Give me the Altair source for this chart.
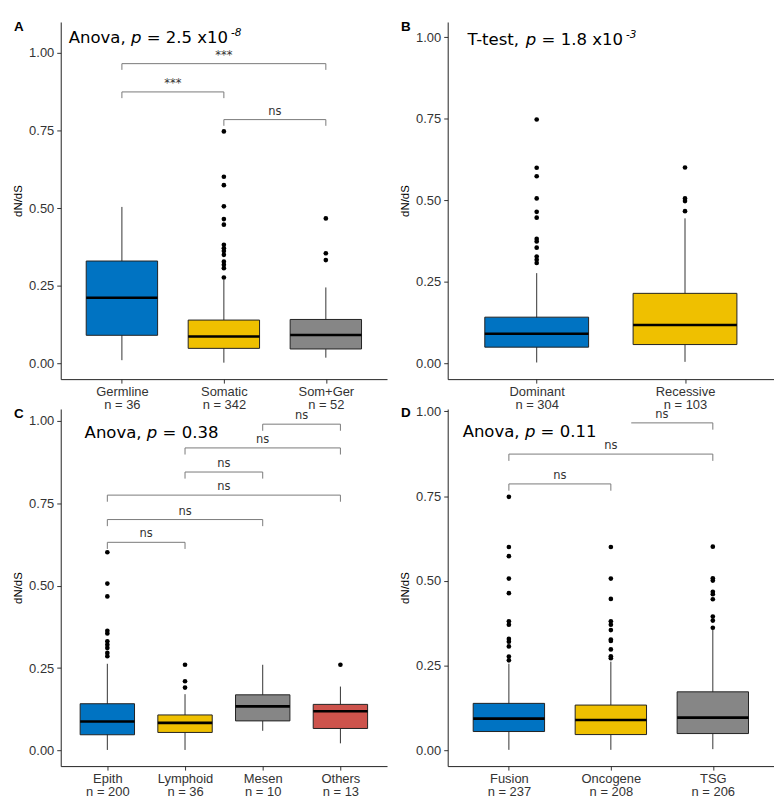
import altair as alt
import pandas as pd

BLUE, YELLOW, GREY, RED = "#0073C2", "#EFC000", "#868686", "#CD534C"

# ---------------- Panel A ----------------
A_cats = ["Germline", "Somatic", "Som+Ger"]
A_n = [36, 342, 52]
A_colors = [BLUE, YELLOW, GREY]
A_low = [0.011, 0.003, 0.019]
A_q1 = [0.091, 0.049, 0.047]
A_med = [0.212, 0.087, 0.092]
A_q3 = [0.330, 0.140, 0.142]
A_high = [0.504, 0.270, 0.245]
A_out = [[],
         [0.747, 0.601, 0.574, 0.506, 0.465, 0.447, 0.382, 0.371, 0.362, 0.350, 0.328, 0.318, 0.307, 0.277],
         [0.467, 0.355, 0.333]]
A_br_from = [1, 1, 2]
A_br_to = [3, 2, 3]
A_br_y = [0.965, 0.874, 0.785]
A_br_lab = ["***", "***", "ns"]
A_br_hide = [0, 0, 0]
A_ydom = [-0.050, 1.099]
A_stat = ["Anova,", "p", "= 2.5 x10", "-8"]

# ---------------- Panel B ----------------
B_cats = ["Dominant", "Recessive"]
B_n = [304, 103]
B_colors = [BLUE, YELLOW]
B_low = [0.003, 0.005]
B_q1 = [0.050, 0.058]
B_med = [0.091, 0.118]
B_q3 = [0.142, 0.215]
B_high = [0.277, 0.445]
B_out = [[0.748, 0.600, 0.574, 0.506, 0.465, 0.447, 0.382, 0.374, 0.355, 0.328, 0.318, 0.308],
         [0.601, 0.506, 0.498, 0.467]]
B_br_from, B_br_to, B_br_y, B_br_lab, B_br_hide = [], [], [], [], []
B_ydom = [-0.048, 1.047]
B_stat = ["T-test,", "p", "= 1.8 x10", "-3"]

# ---------------- Panel C ----------------
C_cats = ["Epith", "Lymphoid", "Mesen", "Others"]
C_n = [200, 36, 10, 13]
C_colors = [BLUE, YELLOW, GREY, RED]
C_low = [0.002, 0.002, 0.060, 0.022]
C_q1 = [0.048, 0.055, 0.090, 0.067]
C_med = [0.088, 0.084, 0.134, 0.119]
C_q3 = [0.142, 0.108, 0.169, 0.140]
C_high = [0.263, 0.171, 0.260, 0.194]
C_out = [[0.601, 0.506, 0.467, 0.363, 0.355, 0.331, 0.321, 0.311, 0.296, 0.286],
         [0.260, 0.210, 0.191],
         [],
         [0.260]]
C_br_from = [1, 1, 1, 2, 2, 3]
C_br_to = [2, 3, 4, 3, 4, 4]
C_br_y = [0.631, 0.700, 0.774, 0.844, 0.917, 0.989]
C_br_lab = ["ns", "ns", "ns", "ns", "ns", "ns"]
C_br_hide = [0, 0, 0, 0, 0, 0]
C_ydom = [-0.047, 1.035]
C_stat = ["Anova,", "p", "= 0.38", ""]

# ---------------- Panel D ----------------
D_cats = ["Fusion", "Oncogene", "TSG"]
D_n = [237, 208, 206]
D_colors = [BLUE, YELLOW, GREY]
D_low = [0.002, 0.002, 0.004]
D_q1 = [0.056, 0.047, 0.050]
D_med = [0.094, 0.090, 0.097]
D_q3 = [0.139, 0.134, 0.173]
D_high = [0.256, 0.262, 0.357]
D_out = [[0.748, 0.600, 0.573, 0.507, 0.464, 0.381, 0.371, 0.329, 0.321, 0.307, 0.277, 0.266],
         [0.600, 0.507, 0.447, 0.381, 0.371, 0.355, 0.327, 0.323, 0.298, 0.278, 0.272],
         [0.601, 0.508, 0.501, 0.468, 0.461, 0.446, 0.395, 0.383, 0.362]]
D_br_from = [1, 1, 2]
D_br_to = [2, 3, 3]
D_br_y = [0.786, 0.874, 0.966]
D_br_lab = ["ns", "ns", "ns"]
D_br_hide = [0, 0, 0.2]
D_ydom = [-0.046, 1.007]
D_stat = ["Anova,", "p", "= 0.11", ""]

W, H = 328, 359
TIP = 0.02
STAT_SIZE = 16.6

# DejaVu Sans advance widths (units per em 2048) for placing text segments
ADV = {'A': 1401, 'n': 1298, 'o': 1253, 'v': 1212, 'a': 1255, ',': 651, ' ': 651,
       'p': 1300, '=': 1716, '.': 651, 'x': 1212, 'T': 1251, '-': 739, 't': 803,
       'e': 1260, 's': 1067}


def tw(s, size):
    return sum(ADV.get(c, 1303) for c in s) / 2048.0 * size


def panel(letter, cats, ns, colors, low, q1, med, q3, high, outs,
          brf, brt, bry, brl, brh, ydom, stat, stat_xy, letter_y, anchor=False):
    n = len(cats)
    pos = list(range(1, n + 1))
    xs = alt.Scale(domain=[0.4, n + 0.6], nice=False, zero=False)
    ys = alt.Scale(domain=ydom, nice=False, zero=False)
    labexpr = "[" + ",".join("['%s','n = %d']" % (c, k) for c, k in zip(cats, ns)) + "][datum.value - 1]"
    xaxis = alt.Axis(values=pos, labelExpr=labexpr, title=None, grid=False,
                     domainColor="#222", domainWidth=1, tickColor="#333", tickSize=4, tickWidth=1,
                     labelFont="Liberation Sans", labelFontSize=13, labelColor="#333",
                     labelPadding=2, labelLineHeight=13.5, labelOverlap=False, labelFlush=False)
    yaxis = alt.Axis(values=[0, 0.25, 0.5, 0.75, 1.0], format=".2f", title="dN/dS", grid=False,
                     domainColor="#222", domainWidth=1, tickColor="#333", tickSize=4, tickWidth=1,
                     labelFont="Liberation Sans", labelFontSize=13, labelColor="#333",
                     labelPadding=3, labelOverlap=False, labelFlush=False,
                     titleFont="Liberation Sans", titleFontSize=11.5, titleFontWeight="normal",
                     titleColor="black", titleX=-42, titleY=H / 2, titleAngle=270,
                     titleAlign="center", titleBaseline="middle")

    box = pd.DataFrame({"pos": pos, "lo": [p - 0.35 for p in pos], "hi": [p + 0.35 for p in pos],
                        "low": low, "q1": q1, "med": med, "q3": q3, "high": high, "col": colors})
    whisk = alt.Chart(box).mark_rule(color="#333", strokeWidth=1).encode(
        x=alt.X("pos:Q", scale=xs, axis=xaxis),
        y=alt.Y("low:Q", scale=ys, axis=yaxis),
        y2="high:Q")
    rect = alt.Chart(box).mark_rect(stroke="#222", strokeWidth=1).encode(
        x=alt.X("lo:Q", scale=xs), x2="hi:Q",
        y=alt.Y("q1:Q", scale=ys), y2="q3:Q",
        color=alt.Color("col:N", scale=None))
    medr = alt.Chart(box).mark_rule(color="black", strokeWidth=2.6).encode(
        x=alt.X("lo:Q", scale=xs), x2="hi:Q", y=alt.Y("med:Q", scale=ys))

    orows = [{"pos": p, "v": v} for p, vals in zip(pos, outs) for v in vals]
    odf = pd.DataFrame(orows if orows else [{"pos": 1, "v": None}])
    pts = alt.Chart(odf).mark_circle(color="black", opacity=1, size=22).encode(
        x=alt.X("pos:Q", scale=xs), y=alt.Y("v:Q", scale=ys))

    layers = [whisk, rect, medr, pts]

    if brf:
        bdf = pd.DataFrame({
            "x1": [a + h * (b - a) for a, b, h in zip(brf, brt, brh)],
            "x2": brt, "xm": [(a + b) / 2 for a, b in zip(brf, brt)],
            "y": bry, "yt": [v - TIP for v in bry], "lab": brl,
            "lt": [h == 0 for h in brh]})
        bcol = "#7a7a7a"
        hline = alt.Chart(bdf).mark_rule(color=bcol, strokeWidth=1).encode(
            x=alt.X("x1:Q", scale=xs), x2="x2:Q", y=alt.Y("y:Q", scale=ys))
        ltip = alt.Chart(bdf).transform_filter("datum.lt").mark_rule(color=bcol, strokeWidth=1).encode(
            x=alt.X("x1:Q", scale=xs), y=alt.Y("y:Q", scale=ys), y2="yt:Q")
        rtip = alt.Chart(bdf).mark_rule(color=bcol, strokeWidth=1).encode(
            x=alt.X("x2:Q", scale=xs), y=alt.Y("y:Q", scale=ys), y2="yt:Q")
        blab = alt.Chart(bdf).mark_text(font="DejaVu Sans", fontSize=11.5, color="#333",
                                         baseline="alphabetic", dy=-5).encode(
            x=alt.X("xm:Q", scale=xs), y=alt.Y("y:Q", scale=ys), text="lab:N")
        layers += [hline, ltip, rtip, blab]

    # statistic annotation, built from segments
    x0, y0 = stat_xy
    pre, pit, post, sup = stat
    x_p = x0 + tw(pre + " ", STAT_SIZE)
    x_post = x_p + tw(pit + " ", STAT_SIZE)
    x_sup = x_post + tw(post, STAT_SIZE) + 3
    norm = pd.DataFrame({"t": [pre, post], "px": [x0, x_post], "py": [y0, y0]})
    ital = pd.DataFrame({"t": [pit, sup], "px": [x_p, x_sup], "py": [y0, y0 - 7],
                         "fs": [STAT_SIZE, 10.5]})
    s1 = alt.Chart(norm).mark_text(font="DejaVu Sans", fontSize=STAT_SIZE, align="left",
                                   baseline="alphabetic", color="black").encode(
        x=alt.X("px:Q", scale=None), y=alt.Y("py:Q", scale=None), text="t:N")
    s2 = alt.Chart(ital).mark_text(font="DejaVu Sans", fontStyle="italic", align="left",
                                   baseline="alphabetic", color="black").encode(
        x=alt.X("px:Q", scale=None), y=alt.Y("py:Q", scale=None), text="t:N",
        size=alt.Size("fs:Q", scale=None, legend=None))
    lt = alt.Chart(pd.DataFrame({"t": [letter]})).mark_text(
        font="Liberation Sans", fontSize=13.5, fontWeight="bold", align="left",
        baseline="alphabetic", color="black").encode(
        x=alt.value(-47), y=alt.value(letter_y), text="t:N")
    layers += [s1, s2, lt]
    if anchor:
        an = alt.Chart(pd.DataFrame({"a": [0]})).mark_circle(opacity=0, size=1).encode(
            x=alt.value(-52), y=alt.value(-11))
        layers.append(an)
    return alt.layer(*layers).properties(width=W, height=H)


pA = panel("A", A_cats, A_n, A_colors, A_low, A_q1, A_med, A_q3, A_high, A_out,
           A_br_from, A_br_to, A_br_y, A_br_lab, A_br_hide, A_ydom, A_stat, (8, 21), 9, anchor=True)
pB = panel("B", B_cats, B_n, B_colors, B_low, B_q1, B_med, B_q3, B_high, B_out,
           B_br_from, B_br_to, B_br_y, B_br_lab, B_br_hide, B_ydom, B_stat, (20, 22.7), 9)
pC = panel("C", C_cats, C_n, C_colors, C_low, C_q1, C_med, C_q3, C_high, C_out,
           C_br_from, C_br_to, C_br_y, C_br_lab, C_br_hide, C_ydom, C_stat, (24, 28.7), 9)
pD = panel("D", D_cats, D_n, D_colors, D_low, D_q1, D_med, D_q3, D_high, D_out,
           D_br_from, D_br_to, D_br_y, D_br_lab, D_br_hide, D_ydom, D_stat, (15, 27.7), 8)

chart = alt.concat(pA, pB, pC, pD, columns=2, spacing={"row": 30, "column": 61},
                   bounds="flush").properties(padding=0).configure_view(strokeWidth=0)

chart.save("out.html", embed_options={"renderer": "svg", "actions": False})
